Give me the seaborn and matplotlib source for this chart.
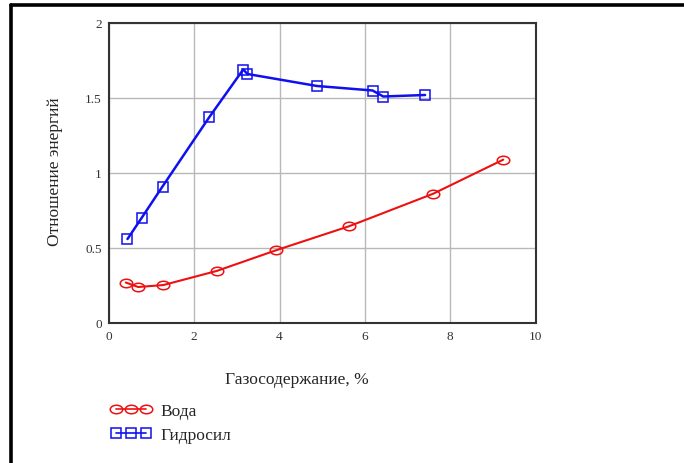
import matplotlib
matplotlib.use("Agg")
import matplotlib.pyplot as plt
from matplotlib.path import Path
from matplotlib.lines import Line2D
import seaborn as sns
import pandas as pd

# Measured energy ratio versus gas content for two liquids
water_x = [0.40, 0.69, 1.28, 2.53, 3.92, 5.63, 7.60, 9.24]
water_y = [0.270, 0.240, 0.253, 0.347, 0.485, 0.645, 0.862, 1.089]
hydrosil_x = [0.44, 0.77, 1.26, 2.35, 3.15, 3.25, 4.88, 6.18, 6.43, 7.41]
hydrosil_y = [0.56, 0.70, 0.91, 1.37, 1.69, 1.66, 1.58, 1.55, 1.51, 1.52]

x_ticks = [0, 2, 4, 6, 8, 10]
y_ticks = [0, 0.5, 1, 1.5, 2]
x_ticklabels = ["0", "2", "4", "6", "8", "10"]
y_ticklabels = ["0", "0.5", "1", "1.5", "2"]

series_names = ["Вода", "Гидросил"]
x_label = "Газосодержание, %"
y_label = "Отношение энергий"

sns.set_style("white")
plt.rcParams["font.family"] = ["Liberation Serif", "DejaVu Serif"]

water = pd.DataFrame({"x": water_x, "y": water_y})
hydrosil = pd.DataFrame({"x": hydrosil_x, "y": hydrosil_y})

# flattened ellipse marker for the water series
circ = Path.unit_circle()
ellipse = Path(circ.vertices * [1.0, 0.68], circ.codes)

fig = plt.figure(figsize=(6.84, 4.64), dpi=100)
W, H = 684, 464
ax = fig.add_axes([108.7 / W, 1 - 324 / H, 427 / W, 300 / H])

sns.lineplot(data=hydrosil, x="x", y="y", ax=ax, sort=False, color="#1010ee",
             lw=1.8, marker="s", markersize=7, markerfacecolor="none",
             markeredgecolor="#1010ee", markeredgewidth=1.1)
sns.lineplot(data=water, x="x", y="y", ax=ax, sort=False, color="#ee1010",
             lw=1.5, marker=ellipse, markersize=9, markerfacecolor="none",
             markeredgecolor="#ee1010", markeredgewidth=1.1)

ax.set_xlim(0, 10)
ax.set_ylim(0, 2)
ax.set_xticks(x_ticks)
ax.set_xticklabels(x_ticklabels)
ax.set_yticks(y_ticks)
ax.set_yticklabels(y_ticklabels)
ax.tick_params(axis="both", length=0, labelsize=9.5, colors="#333333", pad=5)
ax.grid(True, color="#b8b8b8", lw=1.0)
for s in ax.spines.values():
    s.set_color("#333333")
    s.set_linewidth(1.5)
ax.set_xlabel("")
ax.set_ylabel("")

fig.text(297 / W, 1 - 380 / H, x_label, ha="center", va="center", fontsize=12.5)
fig.text(55 / W, 1 - 172 / H, y_label, ha="center", va="center",
         rotation=90, fontsize=12.5)

# legend samples drawn below the plot
handles = [
    Line2D([], [], color="#ee1010", lw=1.2, marker=ellipse, markersize=9,
           markerfacecolor="none", markeredgewidth=1.1),
    Line2D([], [], color="#1010ee", lw=1.2, marker="s", markersize=7,
           markerfacecolor="none", markeredgewidth=1.1),
]
fig.legend(handles, series_names, loc="upper left",
           bbox_to_anchor=(104 / W, 1 - 397 / H), frameon=False,
           numpoints=3, handlelength=2.3, handletextpad=0.55,
           labelspacing=0.45, fontsize=12.5, borderaxespad=0)

# outer page frame, top and left edges
fig.add_artist(Line2D([10.5 / W, 1], [1 - 5.5 / H, 1 - 5.5 / H],
                      transform=fig.transFigure, color="black", lw=2.6))
fig.add_artist(Line2D([10.5 / W, 10.5 / W], [0, 1 - 5.5 / H],
                      transform=fig.transFigure, color="black", lw=2.6))

fig.savefig("out.png", dpi=100)
